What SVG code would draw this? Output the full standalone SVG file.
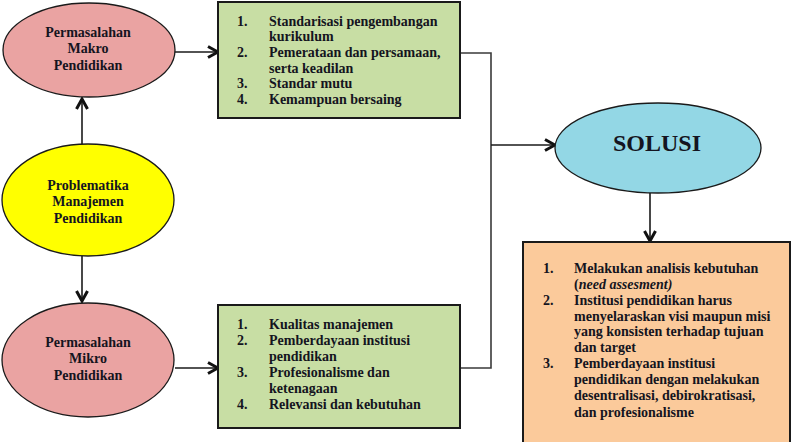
<svg xmlns="http://www.w3.org/2000/svg" width="792" height="442" viewBox="0 0 792 442">
  <style>
    .node-shape { stroke: #1a1a1a; stroke-width: 1.3; }
    .box { stroke: #1a1a1a; stroke-width: 2; }
    .lbl { font-family: "Liberation Serif", "Times New Roman", serif; font-weight: bold; font-size: 14px; fill: #141420; }
    .mid { text-anchor: middle; }
    .wire { fill: none; stroke: #3a3a3a; stroke-width: 1.6; }
    .arr { fill: none; stroke: #1a1a1a; stroke-width: 1.6; marker-end: url(#chev); }
  </style>
  <defs>
    <marker id="chev" viewBox="0 0 14 14" refX="12" refY="7" markerWidth="14" markerHeight="14" markerUnits="userSpaceOnUse" orient="auto">
      <path d="M2 1.5 L12 7 L2 12.5" fill="none" stroke="#111" stroke-width="3" stroke-linejoin="miter"/>
    </marker>
  </defs>

  <!-- connectors -->
  <g id="connectors">
    <line class="arr" x1="175" y1="52" x2="218" y2="52"/>
    <line class="arr" x1="82" y1="145" x2="82" y2="99"/>
    <line class="arr" x1="82" y1="256" x2="82" y2="301"/>
    <line class="arr" x1="175" y1="368" x2="218" y2="368"/>
    <polyline class="wire" points="460,53 491,53 491,368 460,368"/>
    <line class="arr" x1="491" y1="145" x2="555" y2="145"/>
    <line class="arr" x1="650" y1="193" x2="650" y2="241"/>
  </g>

  <!-- macro problems -->
  <g id="makro">
    <ellipse class="node-shape" cx="89" cy="50" rx="86" ry="47" fill="#eaa3a2"/>
    <text class="lbl mid" x="88" y="37">Permasalahan</text>
    <text class="lbl mid" x="88" y="53">Makro</text>
    <text class="lbl mid" x="88" y="70">Pendidikan</text>
  </g>

  <!-- central problem -->
  <g id="problematika">
    <ellipse class="node-shape" cx="88" cy="200" rx="86" ry="56" fill="#ffff00"/>
    <text class="lbl mid" x="88" y="190">Problematika</text>
    <text class="lbl mid" x="88" y="206">Manajemen</text>
    <text class="lbl mid" x="88" y="223">Pendidikan</text>
  </g>

  <!-- micro problems -->
  <g id="mikro">
    <ellipse class="node-shape" cx="88" cy="360" rx="86" ry="57" fill="#eaa3a2"/>
    <text class="lbl mid" x="88" y="347">Permasalahan</text>
    <text class="lbl mid" x="88" y="363">Mikro</text>
    <text class="lbl mid" x="88" y="380">Pendidikan</text>
  </g>

  <!-- macro list -->
  <g id="makro-list">
    <rect class="box" x="218" y="2" width="242" height="116" fill="#c8dea4"/>
    <text class="lbl" x="237" y="26">1.</text>
    <text class="lbl" x="269" y="26">Standarisasi pengembangan</text>
    <text class="lbl" x="269" y="41">kurikulum</text>
    <text class="lbl" x="237" y="57">2.</text>
    <text class="lbl" x="269" y="57">Pemerataan dan persamaan,</text>
    <text class="lbl" x="269" y="73">serta keadilan</text>
    <text class="lbl" x="237" y="88">3.</text>
    <text class="lbl" x="269" y="88">Standar mutu</text>
    <text class="lbl" x="237" y="104">4.</text>
    <text class="lbl" x="269" y="104">Kemampuan bersaing</text>
  </g>

  <!-- micro list -->
  <g id="mikro-list">
    <rect class="box" x="218" y="305" width="242" height="123" fill="#c8dea4"/>
    <text class="lbl" x="237" y="329">1.</text>
    <text class="lbl" x="269" y="329">Kualitas manajemen</text>
    <text class="lbl" x="237" y="345">2.</text>
    <text class="lbl" x="269" y="345">Pemberdayaan institusi</text>
    <text class="lbl" x="269" y="361">pendidikan</text>
    <text class="lbl" x="237" y="377">3.</text>
    <text class="lbl" x="269" y="377">Profesionalisme dan</text>
    <text class="lbl" x="269" y="393">ketenagaan</text>
    <text class="lbl" x="237" y="409">4.</text>
    <text class="lbl" x="269" y="409">Relevansi dan kebutuhan</text>
  </g>

  <!-- solution -->
  <g id="solusi">
    <ellipse class="node-shape" cx="658" cy="148" rx="103" ry="45" fill="#93d7e5"/>
    <text class="lbl mid" x="657" y="151" style="font-size:24px">SOLUSI</text>
  </g>

  <!-- solution list -->
  <g id="solusi-list">
    <rect class="box" x="523" y="242" width="267" height="202" fill="#fbca9b"/>
    <text class="lbl" x="543" y="273">1.</text>
    <text class="lbl" x="574" y="273">Melakukan analisis kebutuhan</text>
    <text class="lbl" x="574" y="289">(<tspan font-style="italic">need assesment)</tspan></text>
    <text class="lbl" x="543" y="305">2.</text>
    <text class="lbl" x="574" y="305">Institusi pendidikan harus</text>
    <text class="lbl" x="574" y="321">menyelaraskan visi maupun misi</text>
    <text class="lbl" x="574" y="336">yang konsisten terhadap tujuan</text>
    <text class="lbl" x="574" y="352">dan target</text>
    <text class="lbl" x="543" y="368">3.</text>
    <text class="lbl" x="574" y="368">Pemberdayaan institusi</text>
    <text class="lbl" x="574" y="384">pendidikan dengan melakukan</text>
    <text class="lbl" x="574" y="400">desentralisasi, debirokratisasi,</text>
    <text class="lbl" x="574" y="417">dan profesionalisme</text>
  </g>
</svg>
